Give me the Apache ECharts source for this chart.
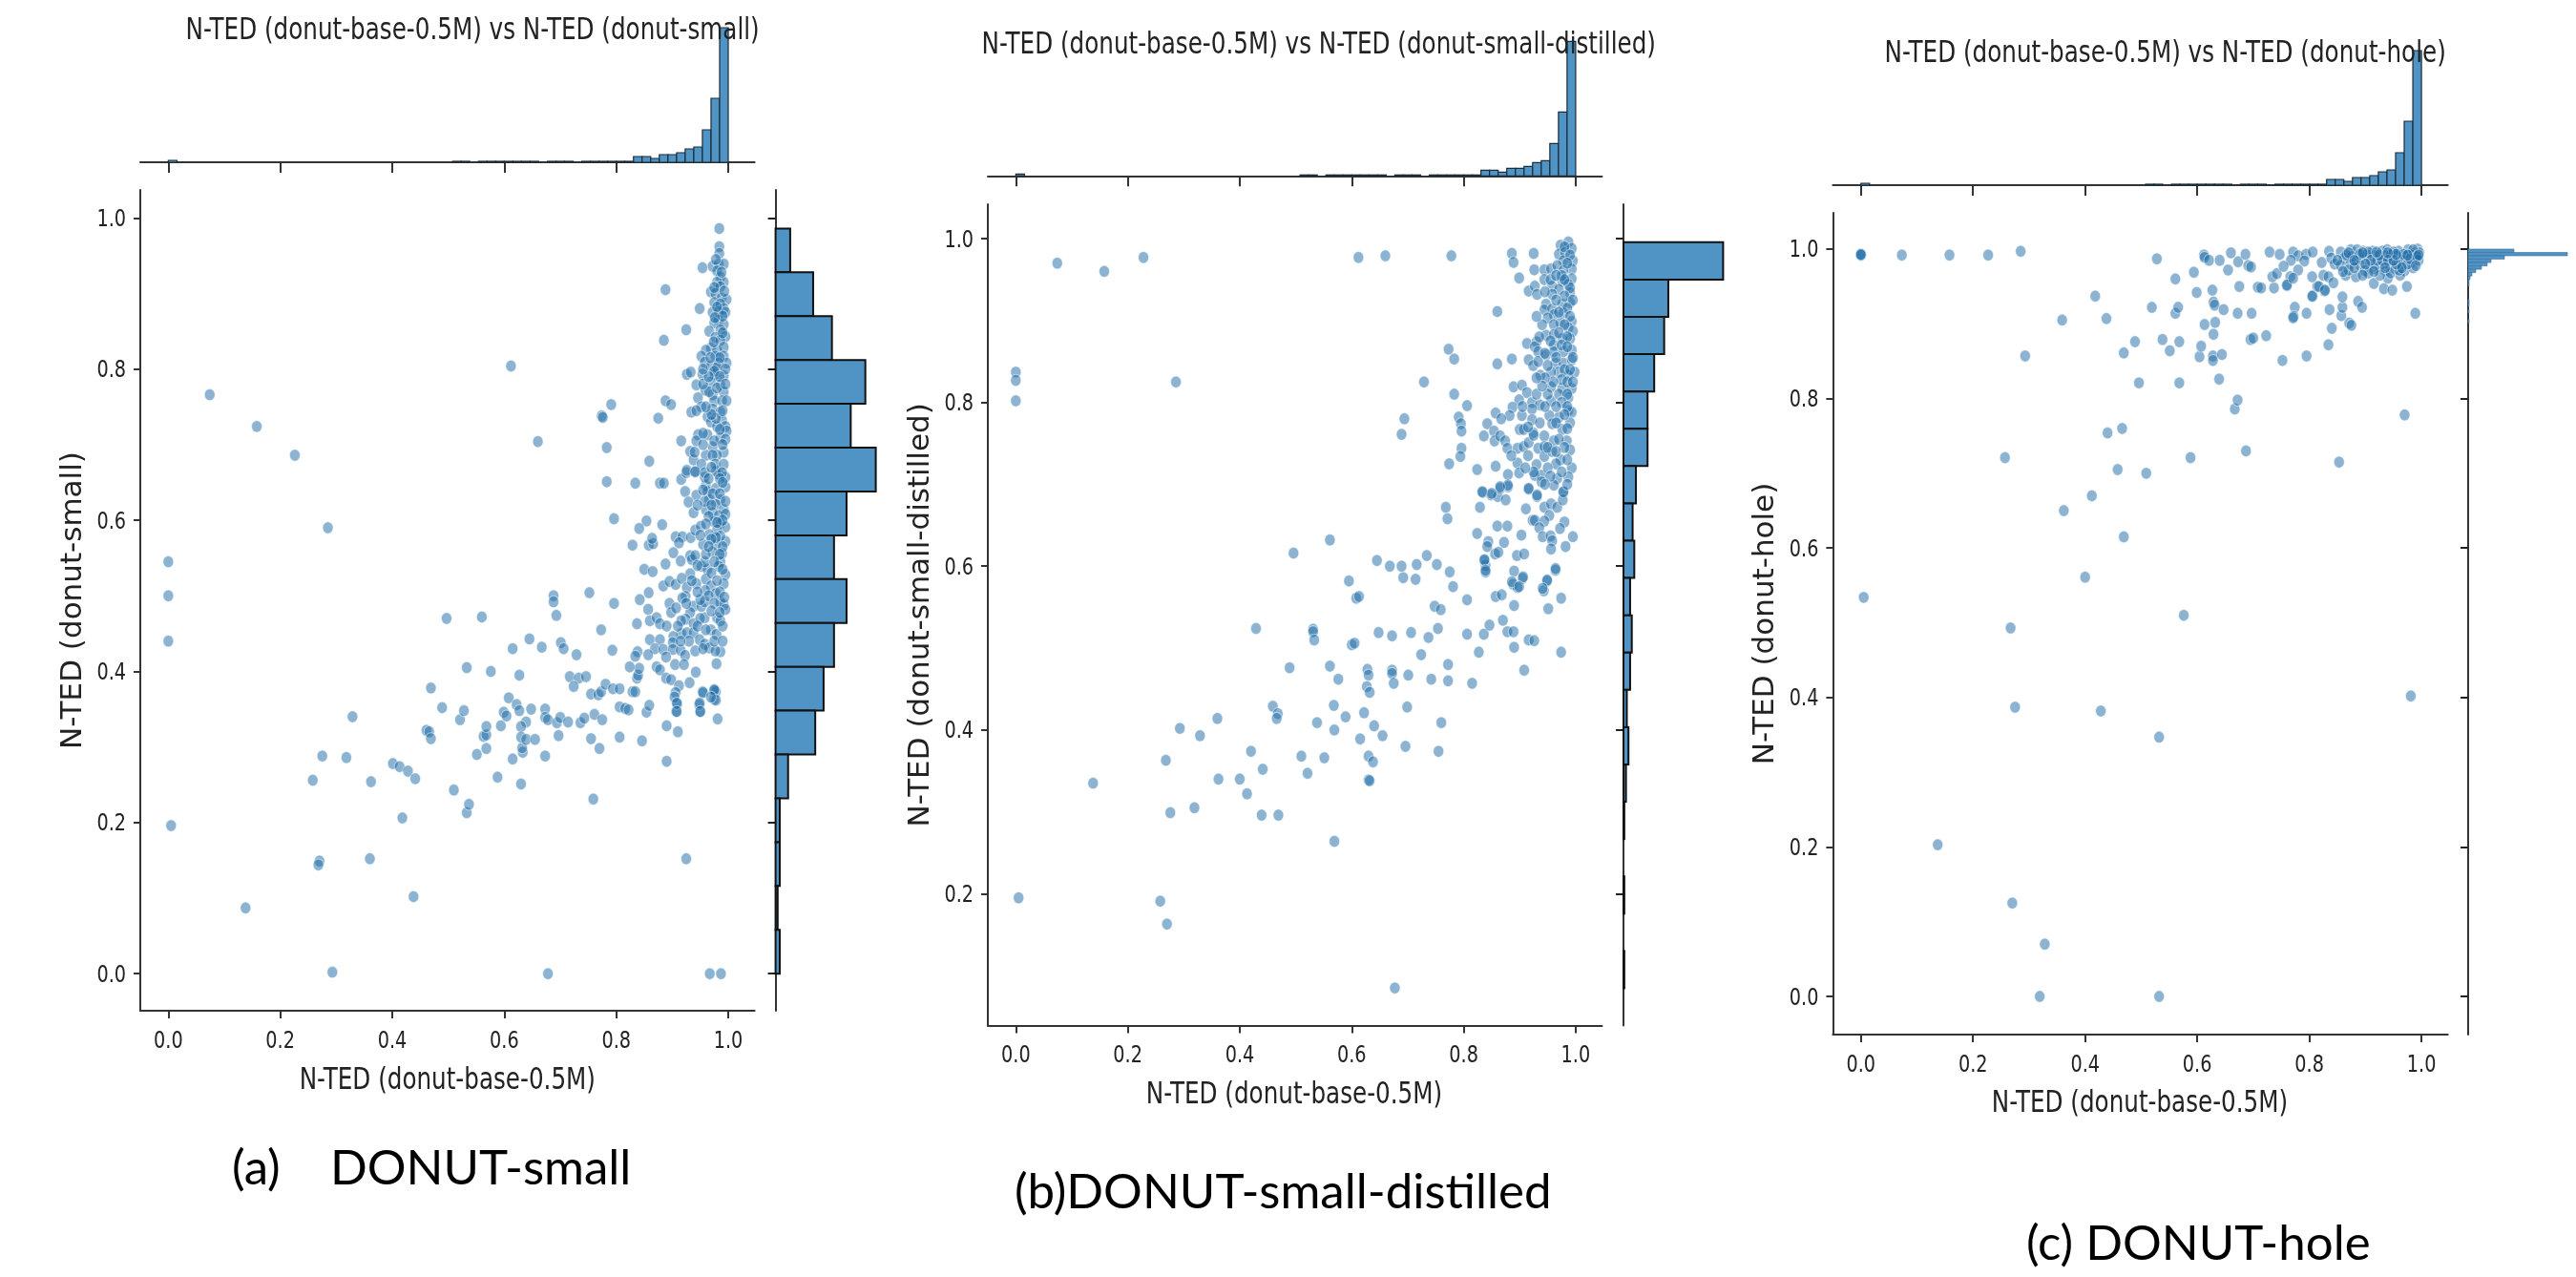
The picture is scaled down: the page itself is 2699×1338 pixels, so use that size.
<!DOCTYPE html>
<html><head><meta charset="utf-8"><style>html,body{margin:0;padding:0;background:#fff}#c{width:2699px;height:1338px}</style>
<script src="https://cdn.jsdelivr.net/npm/echarts@6/dist/echarts.min.js"></script></head><body><div id="c"></div>
<script>
const xTicks=[0,0.2,0.4,0.6,0.8,1.0];
const yTicksSmall=[0,0.2,0.4,0.6,0.8,1.0];
const yTicksDistilled=[0.2,0.4,0.6,0.8,1.0];
const yTicksHole=[0,0.2,0.4,0.6,0.8,1.0];
const titles=["N-TED (donut-base-0.5M) vs N-TED (donut-small)","N-TED (donut-base-0.5M) vs N-TED (donut-small-distilled)","N-TED (donut-base-0.5M) vs N-TED (donut-hole)"];
const captions=["(a)    DONUT-small","(b)DONUT-small-distilled","(c) DONUT-hole"];
const xName="N-TED (donut-base-0.5M)";
const yNames=["N-TED (donut-small)","N-TED (donut-small-distilled)","N-TED (donut-hole)"];
const pointsSmall=[[0,.5],[0,.44],[.005,.196],[.138,.087],[.293,.002],[.678,0],[.967,0],[.987,0],[.925,.152],[.438,.102],[.36,.152],[.27,.149],[.268,.144],[.418,.206],[.759,.231],[.533,.213],[.537,.224],[.51,.243],[.63,.251],[.588,.26],[.258,.256],[.362,.254],[.275,.288],[.318,.286],[.401,.278],[.413,.274],[.428,.268],[.441,.258],[.551,.29],[.615,.284],[.633,.293],[.632,.299],[.568,.298],[.673,.288],[.77,.298],[.89,.281],[.329,.34],[.461,.322],[.466,.32],[.469,.311],[.489,.352],[.521,.336],[.528,.348],[.469,.378],[.563,.314],[.568,.316],[.568,.327],[.594,.328],[.599,.346],[.604,.341],[.608,.365],[.622,.356],[.627,.348],[.639,.333],[.648,.35],[.63,.327],[.63,.313],[.639,.31],[.655,.31],[.673,.35],[.673,.339],[.678,.336],[.694,.332],[.7,.339],[.714,.333],[.697,.315],[.736,.332],[.743,.338],[.761,.343],[.775,.336],[.755,.311],[.806,.313],[.846,.308],[.91,.32],[.89,.328],[.981,.337],[.806,.353],[.816,.351],[.822,.349],[.854,.346],[.859,.355],[.907,.347],[.909,.357],[.95,.347],[.948,.356],[.975,.363],[.978,.373],[.975,.376],[.954,.373],[.533,.405],[.576,.4],[.627,.395],[.615,.43],[.645,.443],[.667,.432],[.701,.438],[.706,.43],[.729,.422],[.717,.393],[.733,.391],[.746,.393],[.724,.38],[.755,.37],[.768,.369],[.773,.373],[.781,.383],[.794,.377],[.806,.377],[.829,.373],[.834,.373],[.837,.391],[.839,.395],[.841,.404],[.824,.406],[.497,.47],[.56,.472],[.688,.5],[.688,.492],[.693,.474],[.752,.504],[.796,.49],[.773,.455],[.793,.428],
[.783,.651],[.834,.649],[.878,.649],[.885,.649],[.916,.654],[.925,.663],[.941,.665],[.923,.638],[.943,.633],[.929,.624],[.938,.61],[.796,.602],[.854,.599],[.841,.589],[.882,.594],[.829,.567],[.858,.567],[.866,.569],[.864,.576],[.906,.578],[.918,.578],[.912,.57],[.933,.577],[.941,.587],[.951,.592],[.902,.557],[.888,.542],[.915,.546],[.85,.535],[.865,.532],[.932,.553],[.935,.548],[.955,.568],[.941,.553],[.952,.539],[.963,.535],[.932,.529],[.958,.545],[.884,.513],[.895,.519],[.906,.515],[.917,.523],[.926,.511],[.943,.516],[.96,.522],[.969,.513],[.959,.507],[.978,.503],[.924,.499],[.918,.497],[.858,.504],[.842,.495],[.895,.49],[.898,.478],[.907,.484],[.857,.482],[.938,.486],[.952,.486],[.958,.492],[.992,.488],[.986,.492],[.995,.482],[.932,.478],[.924,.469],[.916,.467],[.938,.463],[.958,.471],[.98,.471],[.986,.467],[.86,.467],[.872,.471],[.878,.463],[.837,.463],[.916,.45],[.926,.451],[.938,.451],[.969,.455],[.979,.449],[.902,.446],[.86,.442],[.878,.442],[.901,.438],[.949,.442],[.958,.436],[.869,.43],[.884,.429],[.901,.429],[.915,.428],[.941,.427],[.966,.431],[.986,.426],[.838,.426],[.834,.42],[.857,.422],[.889,.419],[.923,.421],[.977,.427],[.872,.406],[.878,.402],[.905,.409],[.921,.409],[.942,.399],[.979,.41],[.889,.391],[.898,.389],[.931,.385],[.912,.381],[.906,.372],[.904,.366],[.955,.372],[.975,.375],[.978,.362],[.969,.366],[.908,.358],[.908,.347],[.949,.358],[.95,.347],
[.96,.646],[.963,.638],[.978,.642],[.995,.644],[.983,.661],[.995,.657],[.978,.665],[.958,.657],[.966,.627],[.986,.627],[.978,.621],[.96,.614],[.958,.625],[.992,.614],[.972,.61],[.983,.606],[.995,.608],[.975,.598],[.986,.596],[.995,.591],[.98,.587],[.966,.581],[.995,.572],[.978,.568],[.986,.579],[.978,.577],[.972,.558],[.989,.556],[.986,.545],[.983,.539],[.995,.528],[.992,.516],
[.984,.986],[.984,.962],[.984,.953],[.954,.934],[.972,.936],[.983,.939],[.992,.939],[.98,.93],[.986,.922],[.992,.915],[.98,.915],[.986,.909],[.888,.905],[.969,.902],[.977,.9],[.988,.894],[.997,.892],[.975,.888],[.986,.886],[.992,.88],[.949,.88],[.972,.875],[.983,.876],[.995,.875],[.983,.865],[.975,.861],[.992,.859],[.925,.852],[.966,.85],[.986,.852],[.977,.842],[.995,.843],[.986,.838],[.885,.838],[.969,.828],[.96,.825],[.98,.825],[.992,.829],[.952,.817],[.958,.809],[.969,.804],[.977,.817],[.992,.817],[.997,.808],[.983,.808],[.926,.793],[.933,.796],[.954,.793],[.976,.793],[.992,.791],[.98,.802],[.943,.779],[.969,.783],[.986,.779],[.992,.77],[.959,.772],[.972,.766],[.975,.758],[.989,.758],[.997,.758],[.946,.762],[.888,.758],[.898,.753],[.791,.753],[.952,.75],[.934,.743],[.943,.745],[.972,.747],[.986,.743],[.774,.738],[.776,.736],[.875,.735],[.963,.737],[.969,.73],[.989,.732],[.995,.724],[.997,.718],[.98,.724],[.946,.713],[.963,.713],[.986,.709],[.995,.707],[.916,.705],[.943,.705],[.783,.696],[.932,.691],[.972,.697],[.992,.69],[.98,.686],[.938,.68],[.96,.686],[.972,.686],[.859,.678],[.952,.674],[.977,.674],[.992,.674],[.926,.666],[.941,.664],[.989,.663],[.958,.663],
[.612,.804],[.074,.766],[.158,.724],[.226,.686],[.285,.59],[0,.545],[.66,.704],
[.978,.945],[.988,.928],[.975,.908],[.993,.903],[.98,.882],[.99,.87],[.976,.868],[.99,.848],[.974,.836],[.985,.815],[.968,.815],[.995,.8],[.975,.797],[.985,.79],[.966,.77],[.98,.775],[.995,.78],[.978,.735],[.99,.745],[.97,.74],[.985,.72],[.975,.705],[.955,.7],[.99,.7],[.97,.67],[.985,.655],[.965,.655],[.99,.65],[.972,.635],[.985,.635],[.995,.625],[.97,.62],[.99,.6],[.965,.605],[.98,.597],[.97,.575],[.99,.565],[.985,.555],[.96,.555],[.975,.545],[.99,.535],[.97,.53],[.98,.52],[.965,.5],[.985,.505],[.993,.498],[.975,.49],[.95,.495],[.945,.505],[.97,.48],[.985,.478],[.95,.47],[.945,.46],[.99,.46],[.96,.455],[.975,.44],[.99,.44],[.93,.44],[.955,.43],[.915,.44],[.89,.46],[.91,.46],[.925,.49],[.935,.52],[.945,.54],[.965,.565],[.95,.58],[.96,.595],[.945,.62],[.955,.64],[.94,.69],[.955,.715],[.96,.75],[.955,.78],[.965,.79],[.955,.8]];
const pointsDistilled=[[.677,.085],[.005,.195],[.258,.191],[.27,.163],[.569,.264],[.138,.335],[.268,.363],[.293,.402],[.329,.393],[.36,.414],[.362,.34],[.4,.34],[.413,.322],[.42,.374],[.441,.352],[.276,.299],[.319,.305],[.439,.296],[.469,.296],[.459,.429],[.468,.42],[.466,.414],[.51,.368],[.521,.347],[.551,.366],[.538,.409],[.569,.4],[.568,.43],[.589,.416],[.615,.389],[.622,.421],[.64,.405],[.655,.393],[.63,.368],[.638,.361],[.63,.339],[.632,.338],[.696,.38],[.699,.428],[.755,.374],[.76,.409],[.489,.476],[.429,.524],[.531,.523],[.531,.52],[.533,.51],[.6,.504],[.605,.506],[.561,.478],[.576,.462],[.628,.474],[.63,.467],[.627,.453],[.632,.446],[.648,.519],[.672,.515],[.672,.473],[.672,.469],[.675,.457],[.701,.467],[.706,.519],[.724,.492],[.737,.513],[.754,.524],[.742,.462],[.772,.48],[.772,.46],[.815,.457],[.806,.517],[.827,.495],[.836,.517],[.846,.528],[.87,.534],[.878,.52],[.889,.52],[.89,.501],[.908,.473],[.916,.51],[.926,.509],[.974,.495],[.951,.548],[.974,.561],[.748,.551],[.759,.547],[.806,.559],[.857,.563],[.868,.565],[.89,.552],[.608,.561],[.613,.563],[.595,.582],[.692,.586],[.714,.584],[.781,.575],
[.496,.616],[.561,.632],[.645,.607],[.668,.6],[.689,.6],[.716,.602],[.734,.613],[.752,.602],[.775,.593],[.839,.601],[.837,.607],[.839,.593],[.888,.578],[.905,.585],[.896,.574],[.943,.57],[.949,.582],[.964,.595],[0,.837],[0,.827],[0,.802],[.286,.825],[.074,.97],[.158,.96],[.228,.977],[.612,.977],[.66,.979],[.778,.979],[.729,.825],[.694,.78],[.689,.761],
[.768,.672],[.771,.658],[.829,.672],[.834,.69],[.849,.687],[.861,.685],[.875,.681],[.865,.695],[.879,.697],[.916,.694],[.931,.685],[.911,.67],[.944,.672],[.956,.676],[.967,.672],[.978,.69],[.977,.681],[.953,.662],[.923,.656],[.927,.656],[.944,.655],[.935,.647],[.98,.654],[.972,.646],[.995,.636],[.86,.649],[.878,.649],[.903,.638],[.824,.64],[.941,.636],[.955,.637],[.958,.631],[.956,.621],[.982,.624],[.844,.63],[.842,.624],[.872,.629],[.856,.615],[.862,.617],[.895,.613],[.908,.615],[.837,.608],[.839,.595],[.89,.594],[.906,.587],[.886,.581],[.899,.575],[.964,.597],[.949,.583],[.941,.573],
[.886,.982],[.889,.971],[.925,.982],[.899,.952],[.926,.962],[.916,.936],[.927,.942],[.931,.932],[.944,.962],[.956,.963],[.944,.95],[.958,.942],[.973,.992],[.987,.996],[.97,.981],[.981,.983],[.993,.988],[.995,.973],[.978,.973],[.967,.967],[.993,.963],[.978,.961],[.993,.951],[.976,.948],[.987,.944],[.97,.938],[.99,.934],[.958,.932],[.86,.911],[.947,.92],[.944,.913],[.958,.914],[.99,.922],[.976,.92],[.961,.907],[.95,.903],[.978,.909],[.993,.899],[.973,.897],[.961,.895],[.987,.891],[.995,.887],[.947,.882],[.961,.883],[.976,.878],[.99,.878],[.913,.872],[.93,.874],[.927,.868],[.961,.87],[.933,.862],[.947,.858],[.961,.862],[.993,.864],[.978,.862],[.773,.865],[.783,.853],[.886,.853],[.86,.847],[.916,.852],[.924,.845],[.933,.85],[.964,.848],[.978,.848],[.993,.852],[.97,.837],[.998,.837],[.987,.833],[.937,.833],[.956,.837],[.889,.819],[.904,.821],[.956,.819],[.913,.812],[.976,.817],[.993,.817],[.956,.802],[.783,.81],[.806,.796],[.899,.803],[.922,.8],[.936,.797],[.922,.792],[.887,.794],[.882,.784],[.987,.806],[.987,.79],[.97,.782],[.993,.788],[.857,.787],[.867,.78],[.904,.784],[.791,.782],[.795,.774],[.796,.765],[.842,.774],[.836,.759],[.854,.765],[.855,.753],[.953,.784],[.958,.774],[.99,.775],[.922,.779],[.936,.775],[.9,.767],[.907,.767],[.924,.763],[.944,.759],[.976,.767],[.865,.759],[.874,.753],[.878,.744],[.961,.753],[.984,.753],[.896,.744],[.907,.746],[.916,.751],[.933,.744],[.944,.746],[.99,.742],[.796,.744],[.794,.734],[.774,.725],[.824,.718],[.857,.722],[.896,.726],[.899,.714],[.879,.712],[.879,.699],[.944,.734],[.973,.73],[.958,.74],[.93,.724],[.939,.711],[.927,.711],[.939,.703],[.993,.72],[.987,.709],[.967,.707],[.961,.699],[.978,.691],[.916,.695],[.865,.697],[.85,.689],[.833,.691],[.931,.687],
[.98,.99],[.99,.98],[.985,.97],[.975,.955],[.99,.94],[.98,.93],[.965,.925],[.995,.925],[.985,.915],[.97,.91],[.99,.905],[.98,.895],[.97,.885],[.985,.88],[.955,.875],[.975,.87],[.985,.868],[.995,.855],[.965,.855],[.98,.84],[.95,.845],[.99,.84],[.975,.828],[.985,.825],[.96,.825],[.945,.83],[.995,.825],[.97,.81],[.985,.81],[.95,.81],[.975,.8],[.985,.795],[.965,.795],[.945,.795],[.98,.785],[.965,.775],[.985,.768],[.97,.755],[.98,.745],[.95,.745],[.965,.74],[.985,.73],[.965,.725],[.95,.72],[.975,.715],[.955,.71],[.985,.7],[.945,.7],[.925,.715],[.91,.72],[.915,.735],[.885,.735],[.925,.76],[.905,.795],[.915,.77],[.93,.81],[.94,.82],[.93,.83],[.945,.86],[.935,.88],[.94,.895],[.93,.905],[.945,.935],[.955,.95],[.965,.955],[.98,.95]];
const pointsHole=[[.319,0],[.532,0],[.328,.07],[.27,.125],[.137,.203],[.532,.347],[.428,.382],[.275,.387],[.981,.402],[.267,.493],[.576,.51],[.005,.534],[.4,.561],[.469,.615],[.362,.65],[.412,.67],[.458,.705],[.509,.7],[.257,.721],[.588,.721],[.687,.73],[.853,.715],[.44,.754],[.466,.76],[.97,.778],[.667,.786],[.672,.798],[.496,.821],[.568,.821],[.639,.826],[.293,.857],[.469,.861],[.489,.876],[.538,.879],[.551,.864],[.568,.876],[.604,.856],[.607,.87],[.628,.857],[.628,.851],[.644,.859],[.752,.851],[.795,.857],[.834,.872],[.629,.886],[.695,.879],[.7,.881],[.723,.884],[.359,.905],[.438,.907],[.418,.937],[.519,.922],[.561,.914],[.566,.922],[.613,.899],[.632,.902],[.629,.929],[.631,.925],[.647,.919],[.672,.914],[.697,.914],[.774,.922],[.772,.91],[.771,.908],[.795,.914],[.84,.894],[.836,.919],[.871,.901],[.875,.898],[.857,.911],[.859,.922],[.859,.936],[.887,.93],[.894,.922],[.806,.937],[.989,.914],[.599,.942],[.627,.945],[.675,.95],[.708,.949],[.714,.948],[.737,.948],[.76,.951],[.814,.95],[.827,.944],[.561,.96],[.594,.969],[.528,.987],[.612,.992],[.613,.989],[.621,.985],[.64,.985],[.66,.995],[.655,.972],[.673,.983],[.686,.993],[.691,.978],[.696,.976],[0,.992],[0,.992],[0,.993],[.073,.992],[.158,.992],[.227,.992],[.285,.997],
[.729,.996],[.747,.993],[.734,.963],[.742,.967],[.771,.996],[.78,.991],[.794,.993],[.806,.996],[.767,.985],[.791,.984],[.754,.977],[.78,.972],[.766,.963],[.76,.952],[.771,.961],[.805,.963],[.805,.937],[.817,.95],[.828,.945],[.825,.965],[.834,.963],[.843,.955],[.822,.982],[.835,.997],[.839,.988],[.845,.98],[.856,.996],[.862,.988],[.874,.999],[.885,.999],[.896,.997],[.913,.997],[.93,.997],[.939,.999],[.959,.997],[.976,.999],[.993,1],[.876,.99],[.896,.989],[.916,.991],[.936,.991],[.956,.991],[.973,.991],[.988,.995],[.996,.995],[.856,.978],[.873,.98],[.891,.978],[.908,.98],[.925,.978],[.942,.98],[.959,.982],[.981,.982],[.865,.965],[.883,.963],[.899,.971],[.916,.974],[.936,.971],[.953,.974],[.97,.971],[.915,.954],[.94,.961],[.933,.947],[.948,.945],[.974,.95],
[.866,.992],[.884,.985],[.903,.992],[.921,.985],[.945,.992],[.965,.985],[.982,.992],[.99,.987],[.85,.985],[.87,.972],[.905,.968],[.926,.965],[.945,.968],[.962,.965],[.985,.975],[.995,.985],[.905,.996],[.95,.996],[.985,.999],[.88,.975],[.93,.985],[.975,.98],[.96,.972],
[.87,.995],[.89,.993],[.91,.985],[.925,.992],[.94,.985],[.955,.98],[.968,.993],[.98,.987],[.992,.99],[.9,.98],[.915,.97],[.935,.975],[.95,.985],[.965,.975],[.99,.978],[.995,.992],[.88,.985],[.86,.97],[.895,.965],[.975,.992],[.955,.993],[.94,.995],[.92,.996],[.895,.995]];
const histCountsTop=[2,0,0,0,0,0,0,0,0,0,0,0,0,0,0,0,0,0,0,0,0,0,0,0,0,0,0,0,0,0,0,0,0,1,1,0,1,1,1,1,1,1,1,0,1,1,1,0,1,1,1,1,1,1,6,6,4,8,8,10,14,16,34,67,141];
const histCountsSmall=[7,18,27,43,36,48,34,28,34,28,23,19,6,2,2,1,2];
const histCountsDistilled=[120,54,49,37,29,29,15,11,13,8,10,8,4,6,3,1,0,1,0,1];
const histCountsHole=[48,104,38,24,20,14,8,4,2,1,1,0,0,0,0,1,1,0,1,0,0,1,0,0,0,0,0,0,0,0];

const INK='#222', BAR='#5093c5', DOT='rgb(25,105,165)';
const FONT='DejaVu Sans', CAP='Lato', SQUASH=.77;
const panels=[
 {pts:pointsSmall,yTicks:yTicksSmall,hist:histCountsSmall,histMax:48,histTop:.986,histStep:.058,histW:105,histLW:2,histStroke:'#111',
  left:147,right:790.6,top:199,bottom:1059,xMin:-.05,xMax:1.047,yMin:-.049,yMax:1.037,baseY:170,barLeft:812.6,
  title:[194.5,33],xname:[468.8,1133],cap:[243,1199]},
 {pts:pointsDistilled,yTicks:yTicksDistilled,hist:histCountsDistilled,histMax:120,histTop:.9956,histStep:.04555,histW:104.4,histLW:2,histStroke:'#111',
  left:1035,right:1678.5,top:214,bottom:1074.6,xMin:-.05,xMax:1.047,yMin:.039,yMax:1.042,baseY:184.3,barLeft:1701,
  title:[1028.5,47.6],xname:[1356,1148],cap:[1063,1224]},
 {pts:pointsHole,yTicks:yTicksHole,hist:histCountsHole,histMax:104,histTop:1,histStep:.0045,histW:104,histLW:.6,histStroke:'#3a6f99',
  left:1920.4,right:2564.7,top:223,bottom:1084,xMin:-.05,xMax:1.047,yMin:-.051,yMax:1.0485,baseY:194,barLeft:2586,
  title:[1974.5,57],xname:[2242,1157],cap:[2123,1278]}];

const grid=[],xAxis=[],yAxis=[],series=[],graphic=[];
const binWidth=1/65;
function topItem(lw){return (p,api)=>{const c=api.value(2);if(!c)return null;
  const a=api.coord([api.value(0),0]),b=api.coord([api.value(1),c]);
  return {type:'rect',shape:{x:a[0],y:b[1],width:b[0]-a[0],height:a[1]-b[1]},style:{fill:BAR,stroke:'#1c2c38',lineWidth:lw}};};}
function rightItem(lw,st){return (p,api)=>{const c=api.value(0);if(!c)return null;
  const a=api.coord([0,api.value(1)]),b=api.coord([c,api.value(2)]);
  return {type:'rect',shape:{x:a[0],y:b[1],width:b[0]-a[0],height:a[1]-b[1]},style:{fill:BAR,stroke:st,lineWidth:lw}};};}
function squashed(text,x,y,size,align){return {type:'text',x,y,scaleX:SQUASH,z:50,silent:true,
  style:{text,fill:INK,fontFamily:FONT,fontSize:size,align,verticalAlign:'middle',textAlign:align,textVerticalAlign:'middle'}};}
const line={show:true,onZero:false,lineStyle:{color:'#333',width:2}};
panels.forEach((p,i)=>{
  const g=i*3,w=p.right-p.left,h=p.bottom-p.top;
  grid.push({left:p.left,top:p.top,width:w,height:h});
  grid.push({left:p.left,top:p.baseY-141,width:w,height:141});
  grid.push({left:p.barLeft,top:p.top,width:p.histW,height:h});
  xAxis.push({gridIndex:g,type:'value',min:p.xMin,max:p.xMax,axisLine:line,splitLine:{show:false},
    axisTick:{show:true,length:8,customValues:xTicks,lineStyle:{color:'#333',width:2}},axisLabel:{show:false}});
  yAxis.push({gridIndex:g,type:'value',min:p.yMin,max:p.yMax,axisLine:line,splitLine:{show:false},
    axisTick:{show:true,length:7,customValues:p.yTicks,lineStyle:{color:'#333',width:2}},axisLabel:{show:false},
    name:yNames[i],nameLocation:'middle',nameGap:55,nameTextStyle:{color:INK,fontFamily:FONT,fontSize:31}});
  xAxis.push({gridIndex:g+1,type:'value',min:p.xMin,max:p.xMax,axisLine:line,splitLine:{show:false},
    axisTick:{show:true,length:11,customValues:xTicks,lineStyle:{color:'#333',width:2}},axisLabel:{show:false}});
  yAxis.push({gridIndex:g+1,type:'value',min:0,max:141,show:false,splitLine:{show:false}});
  xAxis.push({gridIndex:g+2,type:'value',min:0,max:p.histMax,show:false,splitLine:{show:false}});
  yAxis.push({gridIndex:g+2,type:'value',min:p.yMin,max:p.yMax,axisLine:line,splitLine:{show:false},
    axisTick:{show:true,length:8,customValues:p.yTicks,lineStyle:{color:'#222',width:2}},axisLabel:{show:false}});
  series.push({type:'scatter',xAxisIndex:g,yAxisIndex:g,data:p.pts,symbol:'circle',symbolSize:[11,12.5],silent:true,
    itemStyle:{color:DOT,opacity:.5,borderColor:'#fff',borderWidth:1}});
  series.push({type:'custom',xAxisIndex:g+1,yAxisIndex:g+1,renderItem:topItem(1.2),encode:{x:[0,1],y:2},silent:true,
    data:histCountsTop.map((c,k)=>[k*binWidth,(k+1)*binWidth,c])});
  series.push({type:'custom',xAxisIndex:g+2,yAxisIndex:g+2,renderItem:rightItem(p.histLW,p.histStroke),encode:{x:0,y:[1,2]},silent:true,
    data:p.hist.map((c,k)=>[c,p.histTop-(k+1)*p.histStep,p.histTop-k*p.histStep])});
  // tick labels, placed through the axes' own scales
  series.push({type:'custom',xAxisIndex:g,yAxisIndex:g,clip:false,silent:true,encode:{x:0,y:1},z:5,
    data:xTicks.map(v=>[v,p.yMin]),
    renderItem:(q,api)=>{const c=api.coord([api.value(0),api.value(1)]);return squashed(api.value(0).toFixed(1),c[0],c[1]+32,25,'center');}});
  series.push({type:'custom',xAxisIndex:g,yAxisIndex:g,clip:false,silent:true,encode:{x:0,y:1},z:5,
    data:p.yTicks.map(v=>[p.xMin,v]),
    renderItem:(q,api)=>{const c=api.coord([api.value(0),api.value(1)]);return squashed(api.value(1).toFixed(1),c[0]-15,c[1]+2,25,'right');}});
  graphic.push(squashed(titles[i],p.title[0],p.title[1],32,'left'));
  graphic.push(squashed(xName,p.xname[0],p.xname[1],32,'center'));
  graphic.push({type:'text',x:p.cap[0],y:p.cap[1],z:50,silent:true,style:{text:captions[i],fill:'#000',fontFamily:CAP,fontSize:51}});
});
const chart=echarts.init(document.getElementById('c'),null,{renderer:'canvas'});
chart.setOption({animation:false,backgroundColor:'#fff',graphic,grid,xAxis,yAxis,series});
</script></body></html>
